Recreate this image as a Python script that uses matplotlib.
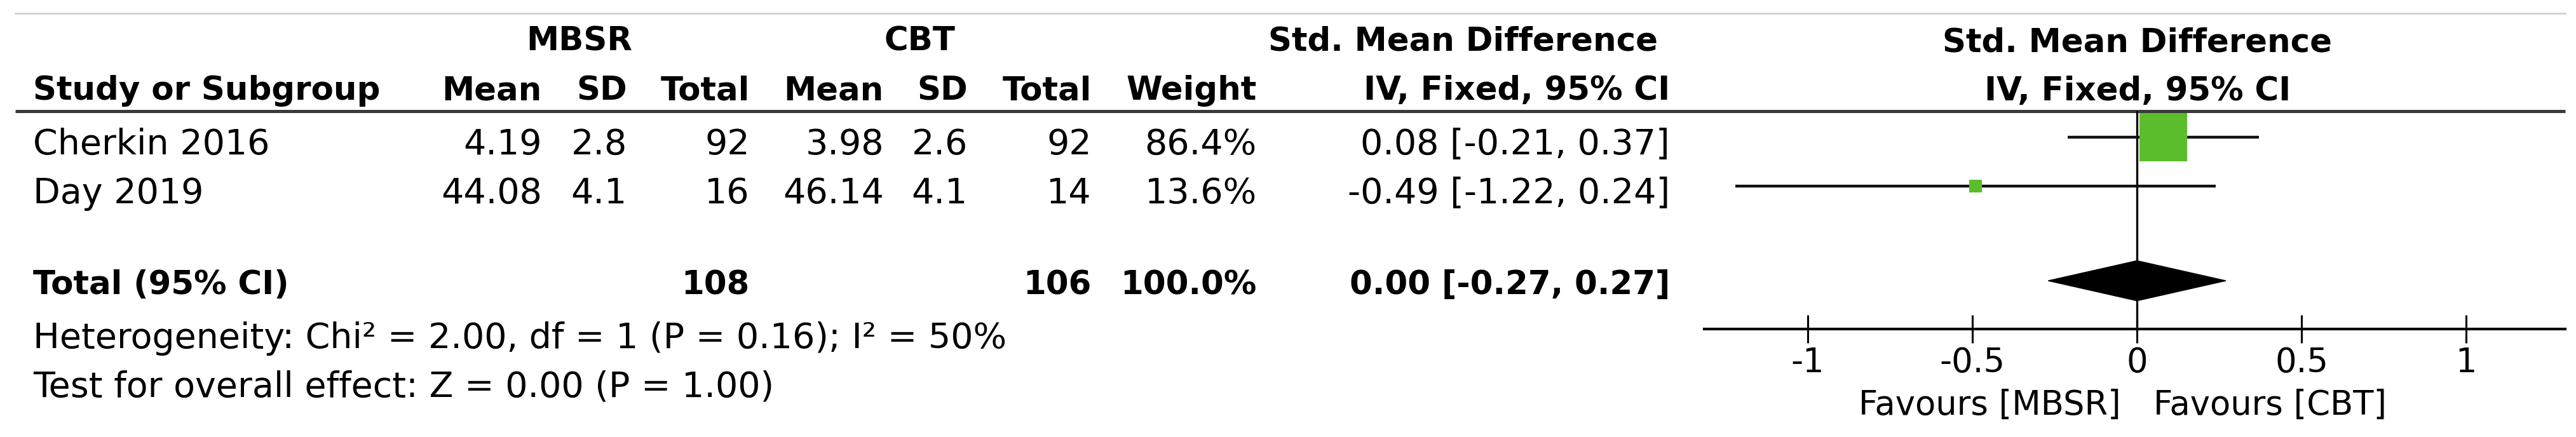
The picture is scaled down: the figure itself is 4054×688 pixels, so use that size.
import matplotlib
matplotlib.use("Agg")
import matplotlib.pyplot as plt
from matplotlib.patches import Polygon
from matplotlib.transforms import blended_transform_factory

# ===== Datos =====
studies = ["Cherkin 2016", "Day 2019"]
mbsr_mean = [4.19, 44.08]
mbsr_sd = [2.8, 4.1]
mbsr_n = [92, 16]
cbt_mean = [3.98, 46.14]
cbt_sd = [2.6, 4.1]
cbt_n = [92, 14]
weights = [86.4, 13.6]
smd = [0.08, -0.49]
ci_low = [-0.21, -1.22]
ci_high = [0.37, 0.24]

total_mbsr = 108
total_cbt = 106
total_weight = 100.0
total_smd = 0.00
total_low = -0.27
total_high = 0.27

heterogeneity = "Heterogeneity: Chi\u00b2 = 2.00, df = 1 (P = 0.16); I\u00b2 = 50%"
overall = "Test for overall effect: Z = 0.00 (P = 1.00)"
x_ticks = [-1, -0.5, 0, 0.5, 1]
favours = ["Favours [MBSR]", "Favours [CBT]"]

plt.rcParams["font.family"] = ["DejaVu Sans"]
plt.rcParams["axes.unicode_minus"] = False

W, H = 4055, 688
fig = plt.figure(figsize=(W / 100, H / 100), dpi=100)

# capa de fondo en pixeles (solo para la tabla)
bg = fig.add_axes([0, 0, 1, 1])
bg.set_xlim(0, W)
bg.set_ylim(H, 0)
bg.axis("off")

FS = 40
FB = 37

def fmt(v):
    return f"{v:g}"

# lineas de la tabla
bg.plot([24, 4037], [21, 21], color="#d2d2d2", lw=2)
bg.plot([24, 4037], [175, 175], color="#3a3a3a", lw=3.6, solid_capstyle="butt")

# ===== Encabezados =====
bold = dict(fontsize=FB, fontweight="bold", va="baseline")
bg.text(912, 80, "MBSR", ha="center", **bold)
bg.text(1447, 80, "CBT", ha="center", **bold)
bg.text(2303, 80, "Std. Mean Difference", ha="center", **bold)
bg.text(3364, 82, "Std. Mean Difference", ha="center", **bold)

bg.text(52, 157, "Study or Subgroup", ha="left", **bold)
cols = [853, 987, 1180, 1391, 1523, 1718, 1978, 2628]
heads = ["Mean", "SD", "Total", "Mean", "SD", "Total", "Weight",
         "IV, Fixed, 95% CI"]
for x, h in zip(cols, heads):
    bg.text(x, 157, h, ha="right", **bold)
bg.text(3364, 158, "IV, Fixed, 95% CI", ha="center", **bold)

# ===== Filas =====
row_base = [243, 320]
for i, name in enumerate(studies):
    y = row_base[i]
    vals = [fmt(mbsr_mean[i]), fmt(mbsr_sd[i]), str(mbsr_n[i]),
            fmt(cbt_mean[i]), fmt(cbt_sd[i]), str(cbt_n[i]),
            f"{weights[i]:.1f}%",
            f"{smd[i]:.2f} [{ci_low[i]:.2f}, {ci_high[i]:.2f}]"]
    bg.text(52, y, name, ha="left", va="baseline", fontsize=FS)
    for x, v in zip(cols, vals):
        bg.text(x, y, v, ha="right", va="baseline", fontsize=FS)

# fila total
bg.text(52, 463, "Total (95% CI)", ha="left", **bold)
bg.text(cols[2], 463, str(total_mbsr), ha="right", **bold)
bg.text(cols[5], 463, str(total_cbt), ha="right", **bold)
bg.text(cols[6], 463, f"{total_weight:.1f}%", ha="right", **bold)
bg.text(cols[7], 463, f"{total_smd:.2f} [{total_low:.2f}, {total_high:.2f}]",
        ha="right", **bold)

bg.text(52, 548, heterogeneity, ha="left", va="baseline", fontsize=FS)
bg.text(52, 625, overall, ha="left", va="baseline", fontsize=FS)

# ===== Forest plot =====
left_px, right_px, top_px, bot_px = 2682, 4037, 175, 518
ax = fig.add_axes([left_px / W, 1 - bot_px / H,
                   (right_px - left_px) / W, (bot_px - top_px) / H])
ax.patch.set_alpha(0)
ax.set_xlim(-1.315, 1.301)
ax.set_ylim(3.922, -0.532)
total_row = 2.935
rows = list(range(len(studies)))

for s in ["top", "left", "right"]:
    ax.spines[s].set_visible(False)
ax.spines["bottom"].set_linewidth(3)
ax.set_yticks([])
ax.set_xticks(x_ticks, [fmt(t) for t in x_ticks])
ax.tick_params(axis="x", direction="inout", length=31, width=2.2,
               labelsize=38, pad=4)

ax.axvline(0, color="black", lw=2.4, zorder=1)

ax.hlines(rows, ci_low, ci_high, color="#111111", lw=3.2, zorder=2)
sizes = [(2.24 * w ** 0.714) ** 2 for w in weights]
ax.scatter(smd, rows, s=sizes, marker="s", color="#5bbd2b",
           linewidths=0, zorder=3)

dh = 0.41
diamond = Polygon([(total_low, total_row), (total_smd, total_row - dh),
                   (total_high, total_row), (total_smd, total_row + dh)],
                  closed=True, facecolor="black", edgecolor="black", zorder=3)
ax.add_patch(diamond)

tr = blended_transform_factory(ax.transData, bg.transData)
bg.text(-0.05, 653, favours[0], transform=tr, ha="right", va="baseline",
        fontsize=38)
bg.text(0.05, 653, favours[1], transform=tr, ha="left", va="baseline",
        fontsize=38)

fig.savefig("out.png", dpi=100)
